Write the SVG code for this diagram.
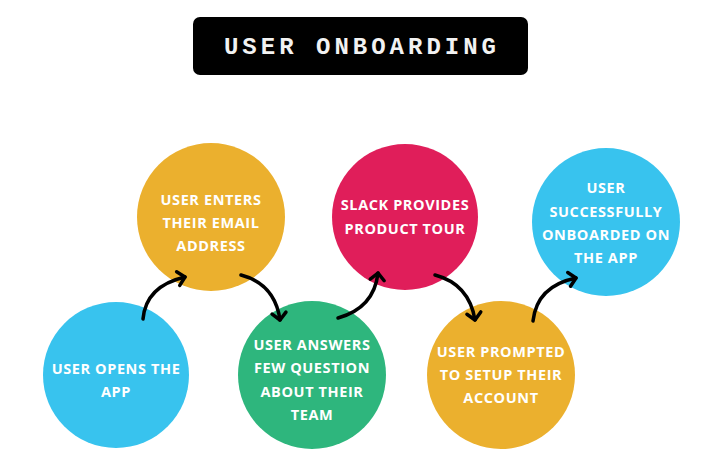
<svg xmlns="http://www.w3.org/2000/svg" width="714" height="472" viewBox="0 0 714 472">
  <defs>
    <style>
      .lbl { font-family: "Open Sans", "Liberation Sans", sans-serif; font-weight: bold; font-size: 14.5px; fill: #ffffff; text-anchor: middle; letter-spacing: 0.6px; }
      .title { font-family: "Liberation Mono", "DejaVu Sans Mono", monospace; font-weight: bold; font-size: 24px; fill: #f2f2f2; text-anchor: middle; letter-spacing: 4px; }
      .conn { fill: none; stroke: #000000; stroke-width: 3.5; stroke-linecap: round; }
      .blue { fill: #38C3EE; }
      .yellow { fill: #EBB02E; }
      .green { fill: #2EB67D; }
      .red { fill: #E01E5A; }
    </style>
    <marker id="arrow" markerUnits="userSpaceOnUse" markerWidth="20" markerHeight="20" refX="0" refY="0" viewBox="-10 -10 20 20" orient="auto" overflow="visible">
      <path d="M-7,-7 L0,0 L-7,7" fill="none" stroke="#000" stroke-width="3.5" stroke-linecap="round" stroke-linejoin="round"/>
    </marker>
  </defs>
  <rect width="714" height="472" fill="#ffffff"/>

  <g id="title">
    <rect x="193" y="17" width="335" height="58" rx="7" fill="#000000"/>
    <text class="title" x="362" y="54">USER ONBOARDING</text>
  </g>

  <g id="node1">
    <circle class="blue" cx="116" cy="375" r="73"/>
    <text class="lbl" x="116" y="374">USER OPENS THE</text>
    <text class="lbl" x="116" y="397">APP</text>
  </g>

  <g id="node2">
    <circle class="yellow" cx="211" cy="217" r="74"/>
    <text class="lbl" x="211" y="205">USER ENTERS</text>
    <text class="lbl" x="211" y="228">THEIR EMAIL</text>
    <text class="lbl" x="211" y="251">ADDRESS</text>
  </g>

  <g id="node3">
    <circle class="green" cx="312" cy="375" r="74"/>
    <text class="lbl" x="312" y="350">USER ANSWERS</text>
    <text class="lbl" x="312" y="373">FEW QUESTION</text>
    <text class="lbl" x="312" y="397">ABOUT THEIR</text>
    <text class="lbl" x="312" y="420">TEAM</text>
  </g>

  <g id="node4">
    <circle class="red" cx="405" cy="217" r="73"/>
    <text class="lbl" x="405" y="210">SLACK PROVIDES</text>
    <text class="lbl" x="405" y="234">PRODUCT TOUR</text>
  </g>

  <g id="node5">
    <circle class="yellow" cx="501" cy="375" r="74"/>
    <text class="lbl" x="501" y="357">USER PROMPTED</text>
    <text class="lbl" x="501" y="380">TO SETUP THEIR</text>
    <text class="lbl" x="501" y="403">ACCOUNT</text>
  </g>

  <g id="node6">
    <circle class="blue" cx="606" cy="222" r="74"/>
    <text class="lbl" x="606" y="193">USER</text>
    <text class="lbl" x="606" y="217">SUCCESSFULLY</text>
    <text class="lbl" x="606" y="240">ONBOARDED ON</text>
    <text class="lbl" x="606" y="263">THE APP</text>
  </g>

  <g id="connectors">
    <path class="conn" d="M143,319 Q146,286 185,277" marker-end="url(#arrow)"/>
    <path class="conn" d="M241,275 Q275,284 280,320" marker-end="url(#arrow)"/>
    <path class="conn" d="M338,318 Q374,308 378,273" marker-end="url(#arrow)"/>
    <path class="conn" d="M435,275 Q469,284 475,320" marker-end="url(#arrow)"/>
    <path class="conn" d="M533,321 Q537,286 576,278" marker-end="url(#arrow)"/>
  </g>
</svg>
